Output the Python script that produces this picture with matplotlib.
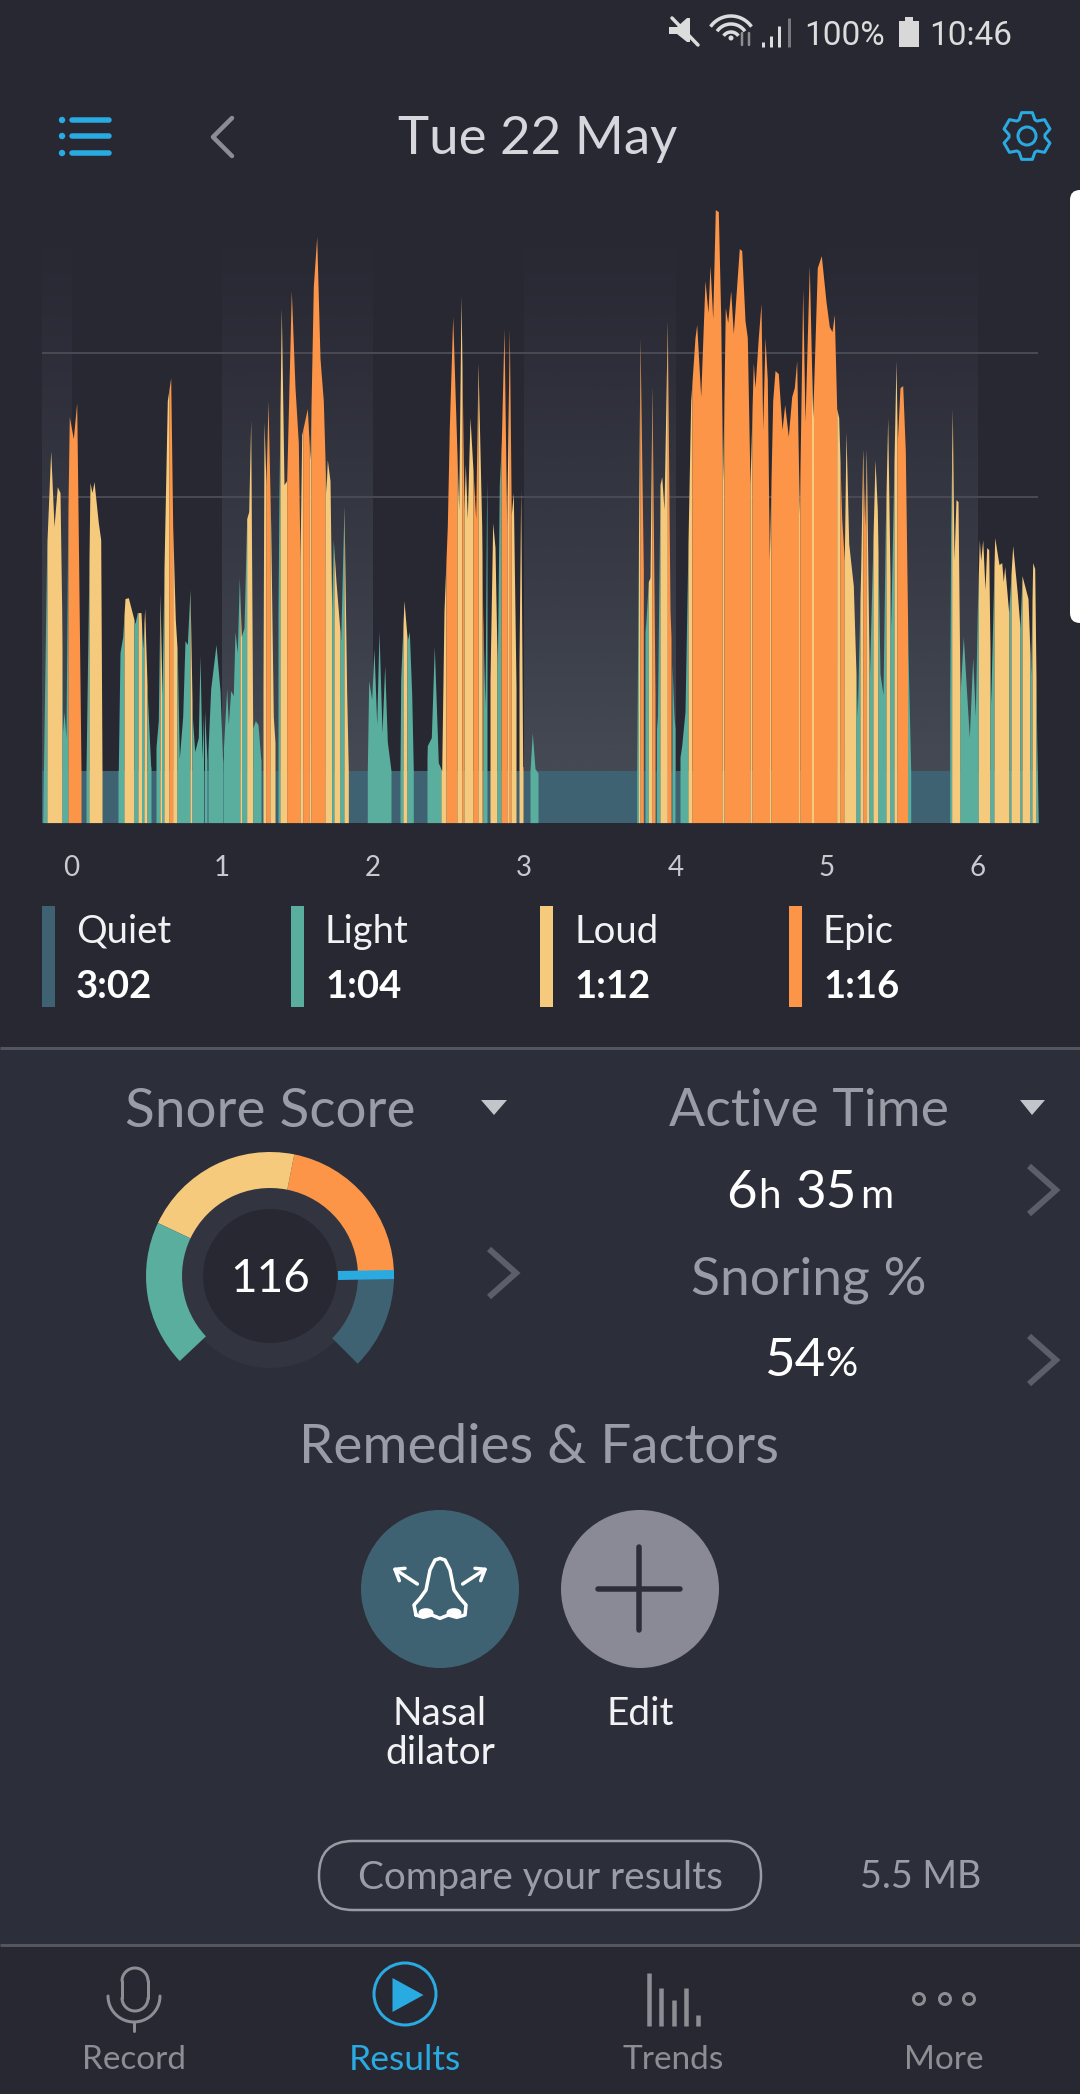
import numpy as np
import matplotlib
matplotlib.use("Agg")
import matplotlib.pyplot as plt
from matplotlib.patches import Circle, Ellipse, FancyBboxPatch, Polygon, Rectangle

plt.rcParams['font.family'] = ['Lato', 'DejaVu Sans']

# ---------------- data ----------------
HOUR_LABELS = ['0', '1', '2', '3', '4', '5', '6']
HOUR_SAMPLES = [71, 222, 373, 524, 676, 827, 978]
SHADED_BANDS = [(42, 72), (222, 373), (524, 676), (827, 978)]
GRID_LEVELS = [326, 470]
QUIET_LEVEL = 52
CHART_START = 42
CHART_END = 1038.3

ENV_SAMPLE = [42.7, 46.7, 50.7, 54, 57.3, 60, 61.7, 62.7, 64, 66, 67.7, 69.3, 73.3, 76.7, 78.7, 81,
              86, 88.3, 90, 92, 94, 98.3, 100.7, 102, 118.3, 120, 122.7, 125, 128.3, 135, 137.3, 141,
              142.7, 144.7, 147.3, 150.7, 154, 158.3, 160, 162, 164, 167.3, 170.7, 172.7, 175.3, 177.3,
              179.3, 182.7, 185, 187.3, 190, 192.3, 194.7, 198.3, 200, 202, 204, 207.3, 210.7, 216, 220,
              222.7, 224, 226.7, 228.3, 230.7, 233.3, 235, 237.3, 239.3, 241.3, 244, 246.7, 248.7, 250.7,
              252.7, 255.3, 258, 260.7, 262.7, 264, 266, 268, 270.7, 273.3, 276.7, 279, 281.3, 284, 286.7,
              291.3, 295, 298.3, 300, 301.7, 307.3, 310, 313.3, 316.7, 320, 323.3, 326, 327.3, 330, 331.7,
              333.3, 336, 340.7, 344, 346.7, 348.3, 367.3, 368.7, 371.7, 374, 376.7, 379, 382, 384.7, 387.3,
              391, 400, 400.7, 404, 407.3, 409.3, 411.7, 413.3, 426.7, 427.3, 431.3, 434.3, 438.3, 441.7,
              444, 447.3, 449.3, 452.7, 458.7, 461, 464, 465.3, 467.3, 470, 475.7, 478, 481.7, 482.7, 485,
              486.7, 489.3, 492.7, 495, 497.3, 499.3, 501.3, 504, 506.7, 509.3, 511.3, 513.3, 516, 518.7,
              520.7, 522.7, 530, 532.3, 535, 537.7, 636.7, 640, 643.3, 645.3, 648.3, 650, 652, 655, 657.3,
              660, 661.7, 664, 667.3, 670, 674, 678.3, 681.7, 685, 688.3, 690.7, 695, 696.7, 700.7, 705,
              708, 710, 712.7, 715.3, 718.3, 720.7, 722.7, 725.3, 727.7, 730.7, 733.3, 739.3, 741.7, 745,
              747.3, 750, 753.3, 755, 758.3, 761, 762.7, 765, 767.3, 769.3, 772.7, 775, 778.3, 782, 784.7,
              788.3, 791.7, 794.3, 796.7, 799.3, 802.7, 805, 809.3, 812.7, 817.3, 821.3, 826, 829.3, 832,
              834.3, 836.7, 838.7, 841.7, 844.3, 846, 848.7, 853.3, 857.3, 860.7, 862.7, 864.7, 866.3, 869.3,
              875, 877.3, 880, 883, 885.3, 887.7, 890.7, 896, 897.3, 900, 902.7, 905.3, 908, 910.7, 949.3,
              950.7, 952.3, 954, 956, 958, 960, 963.3, 966, 969.3, 972.7, 975.3, 977.3, 979.3, 980.7, 982.7,
              985, 986.7, 988.7, 990.7, 994.7, 999, 1001.7, 1003.3, 1004.7, 1008.7, 1012.7, 1017.3, 1020,
              1022, 1028, 1030.7, 1032.7, 1034.7, 1036.7, 1038.3]
ENV_LEVEL = [0, 275, 372, 296, 336, 330, 212, 90, 111, 85, 296, 406, 384, 420, 254, 52,
             52, 212, 340, 330, 341, 300, 283, 52, 52, 170, 186, 224, 225, 199, 210, 210,
             174, 214, 128, 56, 52, 102, 229, 128, 254, 422, 445, 296, 203, 170,
             64, 106, 182, 178, 233, 106, 71, 85, 167, 64, 123, 56, 134, 178, 132,
             60, 85, 134, 98, 132, 127, 191, 170, 245, 186, 195, 304, 311, 403,
             94, 102, 98, 64, 56, 401, 338, 422, 296, 106, 54, 330, 515, 338, 342,
             532, 435, 380, 262, 388, 414, 363, 536, 586, 464, 422, 330, 363, 342, 212,
             283, 241, 182, 317, 128, 52, 52, 142, 123, 174, 98, 191, 90, 157, 81,
             52, 52, 144, 222, 182, 191, 128, 52, 52, 77, 85, 176, 60, 52,
             212, 296, 395, 506, 313, 527, 313, 359, 304, 405, 304, 460, 296, 207, 115,
             342, 102, 300, 275, 149, 338, 380, 494, 296, 494, 308, 330, 136, 128,
             334, 56, 52, 90, 54, 50, 52, 485, 254, 191, 241, 245, 437, 128, 94,
             338, 346, 313, 502, 212, 106, 54, 77, 111, 296, 422, 485, 498, 426, 542,
             510, 557, 504, 613, 611, 506, 342, 515, 500, 532, 489, 574, 572, 502,
             485, 338, 460, 435, 485, 519, 393, 485, 443, 262, 422, 452, 449, 393, 418,
             386, 426, 435, 462, 308, 534, 401, 557, 405, 555, 567, 521, 496, 491,
             508, 414, 405, 304, 262, 391, 279, 237, 106, 254, 374, 296, 374, 140,
             363, 313, 149, 128, 296, 405, 195, 462, 380, 435, 437, 372, 170, 52, 52,
             296, 414, 262, 323, 321, 128, 186, 140, 85, 165, 106, 212, 283, 262, 283,
             233, 275, 273, 119, 285, 258, 260, 241, 256, 210, 277, 229, 195,
             247, 224, 149, 260, 254, 85, 0]

SEG_START = [42, 47, 62, 68, 81, 86, 89, 102, 118, 124, 134, 138, 141.5, 144, 147, 151, 156, 160, 161.5, 164,
             169, 172.7, 177, 190, 192, 203.5, 204.5, 207, 208, 223, 223.5, 240, 241.5, 246.7, 252.7, 261,
             263, 266, 270, 275, 278, 280, 286.7, 300, 302.7, 309.3, 311, 325, 331.7, 334, 340, 344, 348.3,
             367.3, 391, 400, 403, 407, 413.3, 427, 441, 446, 457, 462, 464, 473, 478, 482, 483, 487, 490,
             497, 501, 507, 508.5, 511, 516, 519, 523, 530, 538, 636.7, 638.5, 640, 643.3, 645, 648.3, 652,
             655, 656.5, 660, 667.3, 671, 672, 675, 680, 688, 692, 722, 724, 750, 752, 769.5, 771, 798.5,
             800, 811.5, 813.5, 836.7, 840, 844, 856, 860, 863, 866, 869, 873, 878, 886, 890, 894, 897,
             907.5, 910.7, 949.7, 951.7, 960, 978.3, 990, 994, 1009, 1011, 1020, 1022, 1030, 1032, 1036]
SEG_CATEGORY = ['T', 'L', 'T', 'E', 'Q', 'T', 'L', 'Q', 'T', 'L', 'T', 'L', 'T', 'L', 'T', 'Q', 'T', 'L', 'T', 'L',
                'E', 'L', 'T', 'L', 'T', 'Q', 'T', 'Q', 'T', 'Q', 'T', 'L', 'T', 'L', 'T', 'Q',
                'L', 'E', 'L', 'Q', 'T', 'L', 'E', 'L', 'E', 'L', 'E', 'L', 'T', 'L', 'T', 'L', 'Q',
                'T', 'Q', 'T', 'L', 'T', 'Q', 'T', 'L', 'E', 'L', 'E', 'L', 'E', 'L', 'E', 'T', 'Q', 'L',
                'T', 'E', 'L', 'E', 'L', 'Q', 'L', 'Q', 'T', 'Q', 'T', 'L', 'E', 'Q', 'T', 'L', 'E',
                'Q', 'T', 'L', 'E', 'Q', 'T', 'Q', 'T', 'L', 'E', 'L', 'E', 'L', 'E', 'L', 'E', 'L',
                'E', 'L', 'E', 'L', 'E', 'L', 'T', 'L', 'E', 'L', 'T', 'L', 'T', 'L', 'T', 'L', 'E',
                'T', 'Q', 'T', 'L', 'T', 'L', 'T', 'L', 'T', 'L', 'T', 'L', 'T', 'L', 'T']

LEGEND_NAMES = ['Quiet', 'Light', 'Loud', 'Epic']
LEGEND_TIMES = ['3:02', '1:04', '1:12', '1:16']
GAUGE_SCORE = '116'
GAUGE_SWEEP = [45, 78.7, 76, 68.6, 91.7]   # quiet, epic, loud, light, gap (degrees)

# ---------------- colours ----------------
TOP_BG = '#282833'
PANEL_BG = '#2c2f3a'
QUIET = '#3f6273'
TEAL = '#5aae9e'
LOUD = '#f6ca7c'
EPIC = '#fc9547'
BLUE = '#29abe2'
GREY_TXT = '#9a9ca6'
CAT_COLOR = {'T': TEAL, 'L': LOUD, 'E': EPIC}

W, H = 1080, 2094
fig = plt.figure(figsize=(W / 100, H / 100), dpi=100, facecolor=TOP_BG)
PX = 0.72

# ---------------- page overlay (pixel coords) ----------------
ui = fig.add_axes([0, 0, 1, 1], zorder=0)
ui.set_xlim(0, W)
ui.set_ylim(H, 0)
ui.axis('off')


def T(x, y, s, size, color='white', ha='center', weight='normal', family=None):
    kw = {'family': family} if family else {}
    ui.text(x, y + 0.36 * size / PX, s, fontsize=size, color=color, ha=ha, va='baseline', weight=weight, **kw)


def L(xs, ys, color, lw, cap='round', join='round', z=3):
    ui.plot(xs, ys, color=color, lw=lw * PX, solid_capstyle=cap, solid_joinstyle=join, zorder=z)


ui.add_patch(Rectangle((0, 1048), W, 1945 - 1048, color=PANEL_BG, lw=0, zorder=1))
L([0, W], [1048, 1048], '#53555f', 3, cap='butt')
L([0, W], [1945, 1945], '#53555f', 3, cap='butt')

# status bar
ui.add_patch(Polygon([[669, 27], [677, 27], [687, 18], [690, 18], [690, 42], [687, 42], [677, 34], [669, 34]],
                     color='#dcdcdc', lw=0, zorder=3))
L([672, 698], [18, 45], '#dcdcdc', 3.5)
for r in [25, 17, 9]:
    a = np.radians(np.linspace(-145, -35, 20))
    L(731 + r * np.cos(a), 41 + r * np.sin(a), '#dcdcdc', 3.5, cap='butt')
ui.add_patch(Circle((731, 38), 2.5, color='#dcdcdc', lw=0, zorder=3))
L([742, 742], [33, 45], '#8d8d92', 2.5)
L([749, 749], [45, 33], '#8d8d92', 2.5)
for bx, bt, c in zip([763, 771, 779, 789], [42, 36, 26, 18], ['#dcdcdc', '#dcdcdc', '#dcdcdc', '#77777d']):
    L([bx, bx], [bt, 47], c, 3, cap='butt')
T(845, 33, '100%', 24, '#dcdcdc', family='Roboto')
ui.add_patch(Rectangle((899, 21), 20, 26, color='#d8d8d8', lw=0, zorder=3))
ui.add_patch(Rectangle((905, 17), 8, 5, color='#d8d8d8', lw=0, zorder=3))
T(971, 33, '10:46', 24, '#dcdcdc', family='Roboto')

# header
for y in [120, 136, 153]:
    L([72, 109], [y, y], BLUE, 5.5)
    ui.add_patch(Circle((62, y), 3.2, color=BLUE, lw=0, zorder=3))
L([232, 213, 232], [118, 137, 156], '#8c8c96', 4.5)
T(538, 135, 'Tue 22 May', 38, '#d6d6dc')
gear_ang = np.radians(np.arange(0, 360, 60) + 90)
gear_pts = []
for a in gear_ang:
    for d, r in zip([-26, -13, 13, 26], [18, 24, 24, 18]):
        gear_pts.append([1027 + r * np.cos(a + np.radians(d)), 136 + r * np.sin(a + np.radians(d))])
ui.add_patch(Polygon(gear_pts, closed=True, fill=False, edgecolor=BLUE, lw=3 * PX, joinstyle='round', zorder=3))
ui.add_patch(Circle((1027, 136), 9, fill=False, edgecolor=BLUE, lw=3 * PX, zorder=3))

# white side tab
ui.add_patch(FancyBboxPatch((1070, 190), 30, 433, boxstyle='round,pad=0,rounding_size=10', color='white', lw=0,
                            zorder=3))

# legend
for x, col, n, t in zip([42, 291, 540, 789], [QUIET, TEAL, LOUD, EPIC], LEGEND_NAMES, LEGEND_TIMES):
    ui.add_patch(Rectangle((x, 906), 13, 101, color=col, lw=0, zorder=3))
    T(x + 34, 929, n, 27.5, '#f2f2f4', ha='left')
    T(x + 34, 984, t, 27.5, 'white', ha='left', weight='bold')

# score headers
T(270, 1107, 'Snore Score', 39.5, GREY_TXT)
T(809, 1107, 'Active Time', 38.5, GREY_TXT)
ui.add_patch(Polygon([[481, 1100], [507, 1100], [494, 1115]], color='#c4c5cb', lw=0, zorder=3))
ui.add_patch(Polygon([[1020, 1100], [1045, 1100], [1032, 1115]], color='#c4c5cb', lw=0, zorder=3))
for x, s, sz in [(726, '6', 38), (758, 'h', 29), (796, '35', 38), (860, 'm', 29)]:
    ui.text(x, 1208, s, fontsize=sz, color='white', ha='left', va='baseline')
T(809, 1275, 'Snoring %', 38.5, GREY_TXT)
for x, s, sz in [(764, '54', 38), (825, '%', 29)]:
    ui.text(x, 1376, s, fontsize=sz, color='white', ha='left', va='baseline')
for x0, yc in [(1029, 1190), (1029, 1360), (489, 1273)]:
    L([x0, x0 + 27, x0], [yc - 24, yc, yc + 24], '#5c5e69', 6, cap='butt', join='miter')

# remedies
T(539, 1443, 'Remedies & Factors', 39.5, GREY_TXT)
ui.add_patch(Circle((440, 1589), 79, color=QUIET, lw=0, zorder=2))
ui.add_patch(Circle((640, 1589), 79, color='#8a8a97', lw=0, zorder=2))
L([598, 680], [1589, 1589], PANEL_BG, 5.5)
L([639, 639], [1547, 1630], PANEL_BG, 5.5)
zx = np.array([228, 222, 240, 258, 270, 285, 300, 315, 330, 342, 360, 378, 375, 350, 325, 300, 275, 250, 228])
zy = np.array([375, 345, 325, 300, 240, 210, 205, 210, 240, 300, 325, 345, 375, 382, 375, 385, 375, 382, 375])
L(340 + zx / 3, 1490 + zy / 3, 'white', 3.5)
for ex in [258, 342]:
    ui.add_patch(Ellipse((340 + ex / 3, 1490 + 368 / 3), 15, 9, color='white', lw=0, zorder=3))
for (x0, y0), (x1, y1) in [((232, 282), (165, 238)), ((368, 282), (435, 238))]:
    L([340 + x0 / 3, 340 + x1 / 3], [1490 + y0 / 3, 1490 + y1 / 3], 'white', 3.5)
L([340 + 195 / 3, 340 + 165 / 3, 340 + 178 / 3], [1490 + 235 / 3, 1490 + 238 / 3, 1490 + 272 / 3], 'white', 3.5)
L([340 + 405 / 3, 340 + 435 / 3, 340 + 422 / 3], [1490 + 235 / 3, 1490 + 238 / 3, 1490 + 272 / 3], 'white', 3.5)
T(440, 1711, 'Nasal', 28, '#f2f2f4')
T(440, 1750, 'dilator', 28, '#f2f2f4')
T(640, 1711, 'Edit', 28, '#f2f2f4')

# compare pill
ui.add_patch(FancyBboxPatch((319, 1841), 442, 69, boxstyle='round,pad=0,rounding_size=34', fill=False,
                            edgecolor='#9a9ca3', lw=2.5 * PX, zorder=3))
T(540, 1875, 'Compare your results', 27.8, GREY_TXT)
T(921, 1875, '5.5 MB', 27, GREY_TXT)

# bottom nav
NAV = '#8d8d93'
a = np.radians(np.linspace(0, 180, 30))
L(135 + 13 * np.cos(a + np.pi), 1981 + 13 * np.sin(a + np.pi), NAV, 3)
L(135 + 13 * np.cos(a), 1998 + 13 * np.sin(a), NAV, 3)
L([122, 122], [1981, 1998], NAV, 3)
L([148, 148], [1981, 1998], NAV, 3)
L(134 + 26 * np.cos(a), 1996 + 26 * np.sin(a), NAV, 3)
L([134, 134], [2022, 2031], NAV, 3)
ui.add_patch(Circle((405, 1994), 31, fill=False, edgecolor=BLUE, lw=3 * PX, zorder=3))
ui.add_patch(Polygon([[392.5, 1978], [392.5, 2012], [423.5, 1995]], color=BLUE, lw=0, zorder=3))
for x, t in zip([649, 661, 674, 686, 698], [1973, 1988, 2000, 1988, 2015]):
    L([x, x], [t, 2026], NAV, 4.5, cap='butt')
for x in [919, 945, 969]:
    ui.add_patch(Circle((x, 1999), 5.5, fill=False, edgecolor=NAV, lw=3 * PX, zorder=3))
for x, s, c, sz in zip([134, 405, 673, 944], ['Record', 'Results', 'Trends', 'More'], [NAV, BLUE, NAV, NAV],
                       [24, 25.5, 24, 24]):
    T(x, 2057, s, sz, c)

# ---------------- sound chart ----------------
CH_TOP, CH_BOT = 190, 822.6
ax = fig.add_axes([0, 1 - CH_BOT / H, 1, (CH_BOT - CH_TOP) / H], zorder=1)
ax.patch.set_alpha(0)
for s in ax.spines.values():
    s.set_visible(False)

grad = np.zeros((128, 1, 4))
grad[..., :3] = np.array([72, 78, 88]) / 255
grad[:, 0, 3] = np.linspace(0, 1, 128) ** 1.25
for x0, x1 in SHADED_BANDS:
    ax.imshow(grad, extent=(x0, x1, 0, 610), aspect='auto', origin='upper', zorder=1, interpolation='bilinear')
ax.set_xlim(0, W)
ax.set_ylim(0, CH_BOT - CH_TOP)
ax.hlines(GRID_LEVELS, CHART_START, CHART_END, color='#484953', lw=2 * PX, zorder=2)
ax.fill_between([CHART_START, CHART_END], 0, QUIET_LEVEL, color=QUIET, lw=0, zorder=3)

env_x = np.array(ENV_SAMPLE)
env_y = np.array(ENV_LEVEL, dtype=float)
seg_edges = SEG_START + [CHART_END]
for i, cat in enumerate(SEG_CATEGORY):
    if cat == 'Q':
        continue
    x0, x1 = seg_edges[i], seg_edges[i + 1]
    inside = (env_x > x0) & (env_x < x1)
    xs = np.concatenate([[x0], env_x[inside], [x1]])
    ys = np.interp(xs, env_x, env_y)
    ax.fill_between(xs, 0, ys, color=CAT_COLOR[cat], lw=0, zorder=4)

ax.set_xticks(HOUR_SAMPLES)
ax.set_xticklabels(HOUR_LABELS)
ax.tick_params(axis='x', length=0, pad=23, labelsize=20, labelcolor='#c9cad0')
ax.set_yticks([])

# ---------------- gauge ----------------
gx, gy, gs = 270, 1276, 135
g = fig.add_axes([(gx - gs) / W, 1 - (gy + gs) / H, 2 * gs / W, 2 * gs / H], zorder=2)
g.add_patch(Circle((0, 0), 92, color='#32353f', lw=0, zorder=1))
g.pie(GAUGE_SWEEP, colors=[QUIET, EPIC, LOUD, TEAL, 'none'], startangle=-45, radius=124,
      wedgeprops={'width': 36, 'linewidth': 0}, frame=True)
g.add_patch(Circle((0, 0), 67, color=TOP_BG, lw=0, zorder=6))
g.plot([68, 124], [0.5, 1.5], color=BLUE, lw=9 * PX, solid_capstyle='butt', zorder=7)
g.text(0, -16, GAUGE_SCORE, fontsize=33, color='white', ha='center', va='baseline', zorder=8)
g.set_xlim(-gs, gs)
g.set_ylim(-gs, gs)
g.set_aspect('equal')
for s in g.spines.values():
    s.set_visible(False)
g.set_xticks([])
g.set_yticks([])
g.patch.set_alpha(0)

fig.savefig('out.png', dpi=100, facecolor=fig.get_facecolor())
